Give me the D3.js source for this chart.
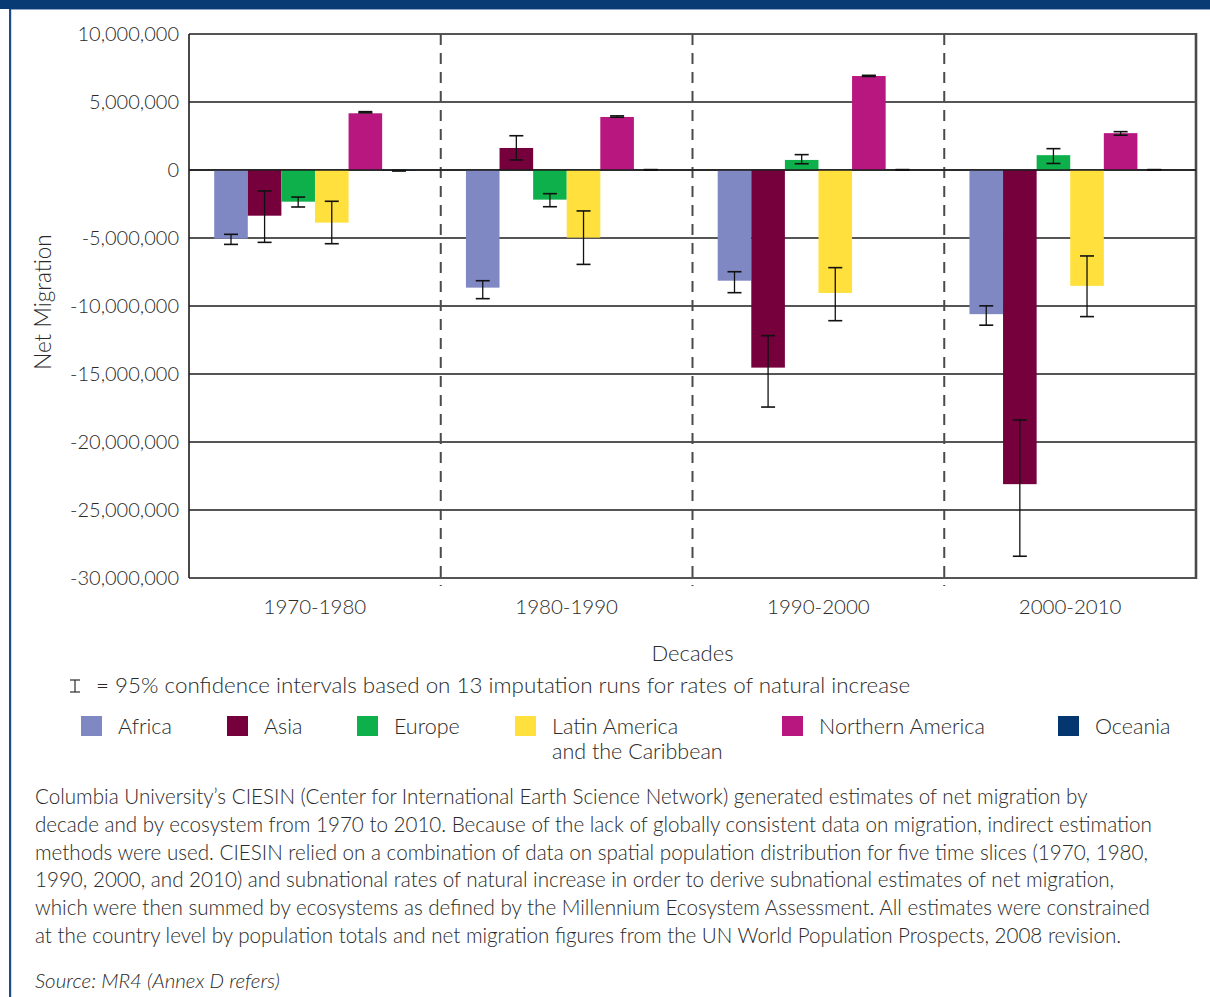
<!DOCTYPE html>
<html>
<head>
<meta charset="utf-8">
<script src="https://cdn.jsdelivr.net/npm/d3@7"></script>
<style>
	body { margin:0; background:#fff; }
	svg text { font-family: Lato, "Open Sans", sans-serif; font-weight:300; fill:#2a2a2a; }
</style>
</head>
<body>
<div id="chart"></div>
<script>
// Decades on the x axis and the six regions drawn in each decade
var decades = ['1970-1980','1980-1990','1990-2000','2000-2010'];
var regions = ['Africa','Asia','Europe','Latin America and the Caribbean','Northern America','Oceania'];
var regionColors = ['#8088c4','#75003c','#0db04b','#ffe03c','#b8177f','#04366f'];

// Net migration per decade, one array per region
var africa   = [-5050000, -8650000, -8140000, -10600000];
var asia     = [-3360000, 1620000, -14530000, -23100000];
var europe   = [-2330000, -2180000, 740000, 1090000];
var latinAm  = [-3870000, -4970000, -9040000, -8520000];
var northAm  = [4170000, 3900000, 6910000, 2710000];
var oceania  = [-60000, 20000, 20000, 20000];

// 95% confidence intervals (low, high) per region
var africaLo  = [-5470000, -9460000, -9020000, -11410000];
var africaHi  = [-4730000, -8140000, -7480000, -9990000];
var asiaLo    = [-5320000, 740000, -17430000, -28400000];
var asiaHi    = [-1540000, 2520000, -12180000, -18380000];
var europeLo  = [-2720000, -2700000, 460000, 480000];
var europeHi  = [-1990000, -1740000, 1130000, 1570000];
var latinAmLo = [-5420000, -6940000, -11080000, -10780000];
var latinAmHi = [-2300000, -3010000, -7180000, -6320000];
var northAmLo = [4200000, 3880000, 6880000, 2560000];
var northAmHi = [4290000, 3980000, 6960000, 2820000];
var oceaniaLo = [-70000, 0, 0, 0];
var oceaniaHi = [-40000, 30000, 30000, 30000];

var yTicks = [10000000, 5000000, 0, -5000000, -10000000, -15000000, -20000000, -25000000, -30000000];

var noteLines = [
	"Columbia University\u2019s CIESIN (Center for International Earth Science Network) generated estimates of net migration by",
	"decade and by ecosystem from 1970 to 2010. Because of the lack of globally consistent data on migration, indirect estimation",
	"methods were used. CIESIN relied on a combination of data on spatial population distribution for five time slices (1970, 1980,",
	"1990, 2000, and 2010) and subnational rates of natural increase in order to derive subnational estimates of net migration,",
	"which were then summed by ecosystems as defined by the Millennium Ecosystem Assessment. All estimates were constrained",
	"at the country level by population totals and net migration figures from the UN World Population Prospects, 2008 revision."
];

var values = [africa, asia, europe, latinAm, northAm, oceania];
var lows = [africaLo, asiaLo, europeLo, latinAmLo, northAmLo, oceaniaLo];
var highs = [africaHi, asiaHi, europeHi, latinAmHi, northAmHi, oceaniaHi];

var width = 1210, height = 997;
var plot = {left:189, right:1196, top:34, bottom:578};

var svg = d3.select('#chart').append('svg')
	.attr('width', width).attr('height', height);

// page frame: dark band on top, blue rule on the left
svg.append('rect').attr('x',0).attr('y',0).attr('width',width).attr('height',9).attr('fill','#083a73');
svg.append('rect').attr('x',11).attr('y',9).attr('width',width-11).attr('height',1).attr('fill','#8fa6c8');
svg.append('rect').attr('x',9).attr('y',9).attr('width',2.2).attr('height',height-9).attr('fill','#1f4b8b');

var x0 = d3.scaleBand().domain(decades).range([plot.left, plot.right]);
var x1 = d3.scaleBand().domain(regions).range([25.2, x0.bandwidth()-25]);
var y = d3.scaleLinear().domain([-30000000, 10000000]).range([plot.bottom, plot.top]);

// flatten into rows for binding
var rows = [];
decades.forEach(function(dec, i){
	regions.forEach(function(reg, j){
		rows.push({decade:dec, region:reg, color:regionColors[j],
			value:values[j][i], lo:lows[j][i], hi:highs[j][i]});
	});
});

///***** grid and axes *****///
svg.append('g').selectAll('line').data(yTicks).enter().append('line')
	.attr('x1', plot.left).attr('x2', plot.right)
	.attr('y1', function(d){return y(d);}).attr('y2', function(d){return y(d);})
	.attr('stroke', '#1c1c1c').attr('stroke-width', 1.6);

var yAxis = d3.axisLeft(y).tickValues(yTicks).tickSize(0).tickPadding(10)
	.tickFormat(d3.format(','));
var yg = svg.append('g').attr('transform','translate('+plot.left+',0)').call(yAxis);
yg.select('.domain').remove();
yg.selectAll('text').attr('font-size', 20).attr('fill','#2a2a2a').attr('dy','0.34em')
	.text(function(d){ return d3.format(',')(d).replace('\u2212','-'); });

// dashed decade dividers
svg.append('g').selectAll('line').data(decades.slice(1)).enter().append('line')
	.attr('x1', function(d){return x0(d);}).attr('x2', function(d){return x0(d);})
	.attr('y1', plot.top).attr('y2', plot.bottom+8)
	.attr('stroke', '#4a4a4a').attr('stroke-width', 2).attr('stroke-dasharray','11,8');

var xAxis = d3.axisBottom(x0).tickSize(0).tickPadding(21);
var xg = svg.append('g').attr('transform','translate(0,'+plot.bottom+')').call(xAxis);
xg.select('.domain').remove();
xg.selectAll('text').attr('font-size', 20.5).attr('fill','#2a2a2a');

///***** bars *****///
svg.append('g').selectAll('rect').data(rows).enter().append('rect')
	.attr('x', function(d){return x0(d.decade)+x1(d.region);})
	.attr('width', x1.bandwidth())
	.attr('y', function(d){return y(Math.max(0,d.value));})
	.attr('height', function(d){return Math.abs(y(d.value)-y(0));})
	.attr('fill', function(d){return d.color;});

// frame lines drawn over the bars
svg.append('line').attr('x1',plot.left).attr('x2',plot.left).attr('y1',plot.top).attr('y2',plot.bottom)
	.attr('stroke','#1c1c1c').attr('stroke-width',1.6);
svg.append('line').attr('x1',plot.right).attr('x2',plot.right).attr('y1',plot.top-1).attr('y2',plot.bottom+1)
	.attr('stroke','#4a4a4a').attr('stroke-width',2.6);
svg.append('line').attr('x1',plot.left).attr('x2',plot.right).attr('y1',y(0)).attr('y2',y(0))
	.attr('stroke','#1c1c1c').attr('stroke-width',1.4);

///***** error bars *****///
var cap = 7;
var eb = svg.append('g').selectAll('g').data(rows).enter().append('g')
	.attr('transform', function(d){return 'translate('+(x0(d.decade)+x1(d.region)+x1.bandwidth()/2)+',0)';});
eb.append('line').attr('x1',0).attr('x2',0)
	.attr('y1', function(d){return y(d.lo);}).attr('y2', function(d){return y(d.hi);})
	.attr('stroke','#111').attr('stroke-width',1.3);
eb.selectAll('.cap').data(function(d){return [d.lo, d.hi];}).enter().append('line')
	.attr('class','cap')
	.attr('x1',-cap).attr('x2',cap)
	.attr('y1', function(v){return y(v);}).attr('y2', function(v){return y(v);})
	.attr('stroke','#111').attr('stroke-width',1.6);

///***** axis titles *****///
svg.append('text').attr('x', x0(decades[1])+x0.bandwidth()).attr('y', 661)
	.attr('text-anchor','middle').attr('font-size',22).text('Decades');
svg.append('text').attr('transform','translate(51,302) rotate(-90)')
	.attr('text-anchor','middle').attr('font-size',22.5).text('Net Migration');

///***** confidence note and legend *****///
var ci = svg.append('g').attr('transform','translate(75,0)').attr('stroke','#2a2a2a').attr('stroke-width',1.2);
ci.append('line').attr('x1',0).attr('x2',0).attr('y1',680).attr('y2',692);
ci.append('line').attr('x1',-5).attr('x2',5).attr('y1',680).attr('y2',680);
ci.append('line').attr('x1',-5).attr('x2',5).attr('y1',692).attr('y2',692);
svg.append('text').attr('x',96).attr('y',693).attr('font-size',22.4)
	.text('= 95% confidence intervals based on 13 imputation runs for rates of natural increase');

var legendX = [81, 227, 357, 515, 782, 1058];
var lg = svg.append('g').selectAll('g').data(regions).enter().append('g')
	.attr('transform', function(d,i){return 'translate('+legendX[i]+',716)';});
lg.append('rect').attr('width',21).attr('height',20)
	.attr('fill', function(d,i){return regionColors[i];});
// the long name wraps onto a second line, as its own text
lg.each(function(d){
	var parts = d == 'Latin America and the Caribbean' ? ['Latin America','and the Caribbean'] : [d];
	var g = d3.select(this);
	parts.forEach(function(p,k){
		g.append('text').attr('x',37).attr('y',18+k*25).attr('font-size',21.5).text(p);
	});
});

///***** footnote *****///
// size the block so its longest line reaches the same right edge as the source
var note = svg.append('g').selectAll('text').data(noteLines).enter().append('text')
	.attr('x',35).attr('y', function(d,i){return 804 + i*27.8;})
	.attr('font-size',20)
	.text(function(d){return d;});
var longest = d3.max(note.nodes(), function(n){return n.getComputedTextLength();});
note.attr('font-size', 20*1117/longest);
svg.append('text').attr('x',35).attr('y',988).attr('font-size',20.5)
	.attr('font-style','italic').text('Source: MR4 (Annex D refers)');
</script>
</body>
</html>
